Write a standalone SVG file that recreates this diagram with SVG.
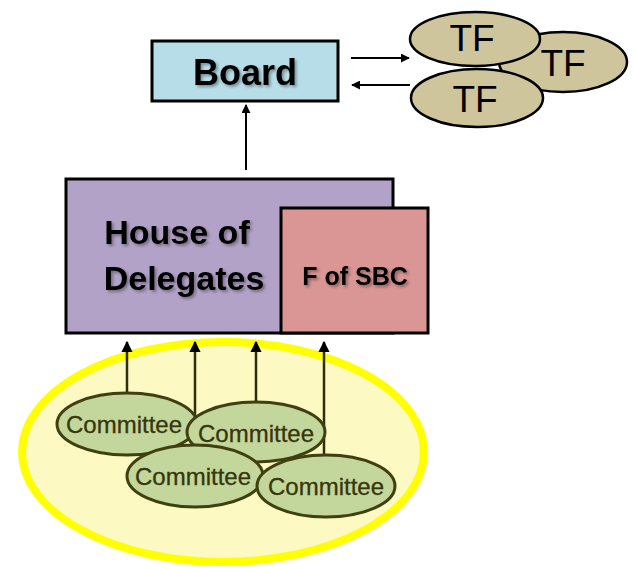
<svg xmlns="http://www.w3.org/2000/svg" width="635" height="567" viewBox="0 0 635 567">
  <style>
    .box { stroke: #000; stroke-width: 3; }
    .bold { font-family: "Liberation Sans", Arial, sans-serif; font-weight: bold; fill: #000; text-anchor: middle; }
    .tf { fill: #cfc59c; stroke: #000; stroke-width: 2.5; }
    .tflabel { font-family: "Liberation Sans", Arial, sans-serif; font-size: 37px; fill: #000; text-anchor: middle; }
    .cmt { fill: #c3d69b; stroke: #3f3f10; stroke-width: 3; }
    .cmtlabel { font-family: "Liberation Sans", Arial, sans-serif; font-size: 24px; fill: #36360c; text-anchor: middle; stroke: #36360c; stroke-width: 0.3; }
    .link { stroke: #000; stroke-width: 2; fill: none; }
    .up { stroke: #2e2e0c; stroke-width: 2.5; fill: none; }
  </style>
  <defs>
    <marker id="head" viewBox="0 0 10 10" refX="9" refY="5" markerWidth="4.5" markerHeight="4.5" orient="auto">
      <path d="M0,0 L10,5 L0,10 z" fill="#000"/>
    </marker>
    <filter id="shadow" x="-10%" y="-20%" width="130%" height="150%">
      <feDropShadow dx="2" dy="2" stdDeviation="1.5" flood-color="#000" flood-opacity="0.35"/>
    </filter>
  </defs>

  <rect width="635" height="567" fill="#fff"/>

  <!-- committee pool -->
  <g id="pool">
    <ellipse cx="223" cy="452" rx="201" ry="110" fill="#fcf9c2" stroke="#ffff00" stroke-width="8"/>
  </g>

  <!-- connectors -->
  <g id="connectors">
    <line class="link" x1="246" y1="170" x2="246" y2="105" marker-end="url(#head)"/>
    <line class="link" x1="351" y1="58" x2="409" y2="58" marker-end="url(#head)"/>
    <line class="link" x1="410" y1="85" x2="352" y2="85" marker-end="url(#head)"/>
    <line class="up" x1="127" y1="394" x2="127" y2="342" marker-end="url(#head)"/>
    <line class="up" x1="195" y1="416" x2="195" y2="342" marker-end="url(#head)"/>
    <line class="up" x1="256" y1="403" x2="256" y2="342" marker-end="url(#head)"/>
    <line class="up" x1="324" y1="456" x2="324" y2="342" marker-end="url(#head)"/>
  </g>

  <g id="board">
    <rect class="box" x="152" y="41" width="186" height="60" fill="#b7dee8"/>
    <text class="bold" x="245" y="85" font-size="36" filter="url(#shadow)">Board</text>
  </g>

  <g id="tf-right">
    <ellipse class="tf" cx="563" cy="62" rx="64" ry="30"/>
    <text class="tflabel" x="563" y="76">TF</text>
  </g>
  <g id="tf-top">
    <ellipse class="tf" cx="475" cy="39" rx="65" ry="27"/>
    <text class="tflabel" x="472" y="51">TF</text>
  </g>
  <g id="tf-bottom">
    <ellipse class="tf" cx="477" cy="98" rx="66" ry="29"/>
    <text class="tflabel" x="475" y="112">TF</text>
  </g>

  <g id="house">
    <rect class="box" x="66" y="179" width="327" height="154" fill="#b3a2c7"/>
    <text class="bold" x="177" y="244" font-size="34" filter="url(#shadow)">House of</text>
    <text class="bold" x="184" y="290" font-size="34" filter="url(#shadow)">Delegates</text>
  </g>

  <g id="fsbc">
    <rect class="box" x="281" y="208" width="147" height="125" fill="#d99694"/>
    <text class="bold" x="355" y="285" font-size="25" filter="url(#shadow)">F of SBC</text>
  </g>

  <g id="committee-1">
    <ellipse class="cmt" cx="127" cy="424" rx="70" ry="31"/>
    <text class="cmtlabel" x="124" y="433">Committee</text>
  </g>
  <g id="committee-2">
    <ellipse class="cmt" cx="256" cy="432" rx="69" ry="30"/>
    <text class="cmtlabel" x="256" y="442">Committee</text>
  </g>
  <g id="committee-3">
    <ellipse class="cmt" cx="195" cy="476" rx="68" ry="31"/>
    <text class="cmtlabel" x="193" y="485">Committee</text>
  </g>
  <g id="committee-4">
    <ellipse class="cmt" cx="326" cy="486" rx="69" ry="31"/>
    <text class="cmtlabel" x="326" y="495">Committee</text>
  </g>
</svg>
